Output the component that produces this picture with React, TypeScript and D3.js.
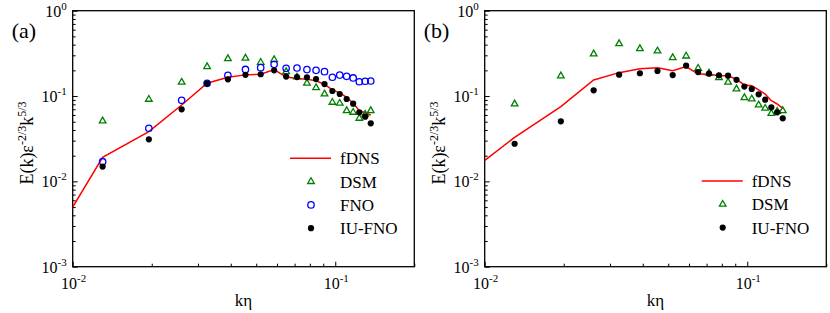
import React, { useRef, useEffect } from 'react';
import * as d3 from 'd3';

// wavenumbers (k eta) of the resolved modes
const kEta = [
  0.013, 0.0195, 0.026, 0.0325, 0.039, 0.0455, 0.052, 0.0585, 0.065, 0.0715,
  0.078, 0.0845, 0.091, 0.0975, 0.104, 0.1105, 0.117, 0.1235, 0.13, 0.1365,
];
// fDNS line also has the first mode (left of the axis, clipped)
const kEtaLine = [
  0.0065, 0.013, 0.0195, 0.026, 0.0325, 0.039, 0.0455, 0.052, 0.0585, 0.065,
  0.0715, 0.078, 0.0845, 0.091, 0.0975, 0.104, 0.1105, 0.117, 0.1235, 0.13,
  0.1365,
];

// panel (a)
const fdnsA = [
  0.00055, 0.0191, 0.0382, 0.0785, 0.141, 0.166, 0.177, 0.18, 0.204, 0.167,
  0.161, 0.157, 0.151, 0.137, 0.118, 0.109, 0.0966, 0.0822, 0.0673, 0.0638,
  0.06,
];
const dsmA = [
  0.051, 0.0915, 0.145, 0.221, 0.274, 0.278, 0.248, 0.267, 0.193, 0.167,
  0.141, 0.125, 0.1056, 0.0844, 0.0822, 0.0673, 0.0644, 0.0548, 0.0611,
  0.0673,
];
const fnoA = [
  0.017, 0.0419, 0.0891, 0.141, 0.175, 0.205, 0.215, 0.235, 0.211, 0.213,
  0.204, 0.2, 0.193, 0.166, 0.176, 0.17, 0.163, 0.147, 0.149, 0.15,
];
const iuA = [
  0.0149, 0.0311, 0.0699, 0.14, 0.157, 0.177, 0.18, 0.2, 0.169, 0.167, 0.166,
  0.158, 0.138, 0.1145, 0.1056, 0.0923, 0.0813, 0.0644, 0.0573, 0.0479,
];

// panel (b)
const fdnsB = [
  0.00633, 0.0328, 0.075, 0.154, 0.188, 0.209, 0.215, 0.198, 0.221, 0.181,
  0.18, 0.173, 0.173, 0.157, 0.135, 0.132, 0.118, 0.1056, 0.0881, 0.0807,
  0.0718,
];
const dsmB = [
  0.0807, 0.172, 0.311, 0.41, 0.359, 0.337, 0.281, 0.294, 0.211, 0.185,
  0.164, 0.145, 0.121, 0.0956, 0.0923, 0.0785, 0.0718, 0.0624, 0.0659,
  0.0673,
];
const iuB = [
  0.0276, 0.0506, 0.1167, 0.178, 0.185, 0.1965, 0.176, 0.227, 0.191, 0.183,
  0.175, 0.173, 0.155, 0.129, 0.121, 0.1047, 0.0906, 0.0738, 0.0645, 0.0548,
];

const xMajor = [0.01, 0.1];
const xMinor = [0.02, 0.03, 0.04, 0.05, 0.06, 0.07, 0.08, 0.09, 0.2];
const yMajor = [1e-3, 1e-2, 1e-1, 1];
const xTickLabels = ['-2', '-1'];
const yTickLabels = ['-3', '-2', '-1', '0'];

const width = 830;
const height = 313;
const top = 10.7;
const bottom = 266.7;
const panelWidth = 341.6;
const font = '"Liberation Serif", "Times New Roman", serif';

type PanelDef = {
  id: string;
  tag: string;
  left: number;
  fdns: number[];
  dsm: number[];
  fno: number[] | null;
  iu: number[];
  legend: { x: number; y: number };
};

const panels: PanelDef[] = [
  { id: 'a', tag: '(a)', left: 72.7, fdns: fdnsA, dsm: dsmA, fno: fnoA, iu: iuA, legend: { x: 290, y: 158.3 } },
  { id: 'b', tag: '(b)', left: 484.7, fdns: fdnsB, dsm: dsmB, fno: null, iu: iuB, legend: { x: 701.7, y: 181 } },
];

const green = '#008000';
const blue = '#0000ff';
const red = '#ff0000';

const tri = d3.symbol(d3.symbolTriangle, 19);

const drawPanel = (svg: any, p: PanelDef) => {
  const right = p.left + panelWidth;
  const x = d3.scaleLog().domain([0.01, 0.2]).range([p.left, right]);
  const y = d3.scaleLog().domain([1e-3, 1]).range([bottom, top]);

  const g = svg.append('g');

  // y minor ticks (2..9 in each decade)
  const yMinor: number[] = [];
  for (let d = -3; d < 0; d++) for (let m = 2; m <= 9; m++) yMinor.push(m * Math.pow(10, d));

  const axisStyle = (sel: any) => {
    sel.select('.domain').remove();
    sel.selectAll('.tick line').attr('stroke', '#000').attr('stroke-width', 1);
  };

  g.append('g')
    .attr('transform', `translate(${p.left},0)`)
    .call(d3.axisLeft(y).tickValues(yMajor).tickSize(-5).tickFormat(() => ''))
    .call(axisStyle);
  g.append('g')
    .attr('transform', `translate(${p.left},0)`)
    .call(d3.axisLeft(y).tickValues(yMinor).tickSize(-3).tickFormat(() => ''))
    .call(axisStyle);
  g.append('g')
    .attr('transform', `translate(0,${bottom})`)
    .call(d3.axisBottom(x).tickValues(xMajor).tickSize(-5).tickFormat(() => ''))
    .call(axisStyle);
  g.append('g')
    .attr('transform', `translate(0,${bottom})`)
    .call(d3.axisBottom(x).tickValues(xMinor).tickSize(-3).tickFormat(() => ''))
    .call(axisStyle);

  // frame
  g.append('rect')
    .attr('x', p.left)
    .attr('y', top)
    .attr('width', panelWidth)
    .attr('height', bottom - top)
    .attr('fill', 'none')
    .attr('stroke', '#000')
    .attr('stroke-width', 1.3);

  // tick labels
  yMajor.forEach((v, i) => {
    const t = g.append('text')
      .attr('x', p.left - 6)
      .attr('y', y(v) + 6)
      .attr('text-anchor', 'end')
      .attr('font-family', font)
      .attr('font-size', 16);
    t.append('tspan').text('10');
    t.append('tspan').attr('dy', -7).attr('font-size', 11).text(yTickLabels[i]);
  });
  xMajor.forEach((v, i) => {
    const t = g.append('text')
      .attr('x', x(v) + 1)
      .attr('y', bottom + 22)
      .attr('text-anchor', 'middle')
      .attr('font-family', font)
      .attr('font-size', 16);
    t.append('tspan').text('10');
    t.append('tspan').attr('dy', -7).attr('font-size', 11).text(xTickLabels[i]);
  });

  // axis titles
  g.append('text')
    .attr('x', p.left + panelWidth / 2)
    .attr('y', 306)
    .attr('text-anchor', 'middle')
    .attr('font-family', font)
    .attr('font-size', 17)
    .text('kη');

  const ly = 143;
  const lx = p.left - 40;
  const yl = g.append('text')
    .attr('transform', `translate(${lx},${ly}) rotate(-90)`)
    .attr('text-anchor', 'middle')
    .attr('font-family', font)
    .attr('font-size', 18);
  yl.append('tspan').text('E(k)ε');
  yl.append('tspan').attr('dy', -7).attr('font-size', 12).text('-2/3');
  yl.append('tspan').attr('dy', 7).text('k');
  yl.append('tspan').attr('dy', -7).attr('font-size', 12).text('5/3');

  g.append('text')
    .attr('x', p.left - 61)
    .attr('y', 38)
    .attr('font-family', font)
    .attr('font-size', 22)
    .text(p.tag);

  // data
  const clipId = `clip-${p.id}`;
  svg.append('clipPath')
    .attr('id', clipId)
    .append('rect')
    .attr('x', p.left)
    .attr('y', top)
    .attr('width', panelWidth)
    .attr('height', bottom - top);

  const line = d3.line<number>()
    .x((d, i) => x(kEtaLine[i]))
    .y((d) => y(d));

  g.append('path')
    .attr('d', line(p.fdns))
    .attr('clip-path', `url(#${clipId})`)
    .attr('fill', 'none')
    .attr('stroke', red)
    .attr('stroke-width', 1.5);

  g.append('g')
    .selectAll('path')
    .data(p.dsm)
    .join('path')
    .attr('d', tri())
    .attr('transform', (d: number, i: number) => `translate(${x(kEta[i])},${y(d)})`)
    .attr('fill', 'none')
    .attr('stroke', green)
    .attr('stroke-width', 1.3);

  if (p.fno) {
    g.append('g')
      .selectAll('circle')
      .data(p.fno)
      .join('circle')
      .attr('cx', (d: number, i: number) => x(kEta[i]))
      .attr('cy', (d: number) => y(d))
      .attr('r', 3.2)
      .attr('fill', 'none')
      .attr('stroke', blue)
      .attr('stroke-width', 1.3);
  }

  g.append('g')
    .selectAll('circle')
    .data(p.iu)
    .join('circle')
    .attr('cx', (d: number, i: number) => x(kEta[i]))
    .attr('cy', (d: number) => y(d))
    .attr('r', 3.1)
    .attr('fill', '#000');

  // legend
  const L = p.legend;
  const step = 23.3;
  let row = 0;
  const label = (yy: number, s: string) =>
    g.append('text')
      .attr('x', L.x + 50)
      .attr('y', yy + 6)
      .attr('font-family', font)
      .attr('font-size', 17)
      .text(s);

  let yy = L.y + step * row++;
  g.append('line')
    .attr('x1', L.x).attr('x2', L.x + 41)
    .attr('y1', yy).attr('y2', yy)
    .attr('stroke', red).attr('stroke-width', 1.5);
  label(yy, 'fDNS');

  yy = L.y + step * row++;
  g.append('path')
    .attr('d', tri())
    .attr('transform', `translate(${L.x + 21},${yy})`)
    .attr('fill', 'none').attr('stroke', green).attr('stroke-width', 1.3);
  label(yy, 'DSM');

  if (p.fno) {
    yy = L.y + step * row++;
    g.append('circle')
      .attr('cx', L.x + 21).attr('cy', yy).attr('r', 3.2)
      .attr('fill', 'none').attr('stroke', blue).attr('stroke-width', 1.3);
    label(yy, 'FNO');
  }

  yy = L.y + step * row++;
  g.append('circle')
    .attr('cx', L.x + 21).attr('cy', yy).attr('r', 3.1)
    .attr('fill', '#000');
  label(yy, 'IU-FNO');
};

const App: React.FC = () => {
  const ref = useRef<SVGSVGElement>(null);

  useEffect(() => {
    const svg = d3.select(ref.current);
    svg.selectAll('*').remove();
    panels.forEach((p) => drawPanel(svg, p));
  }, []);

  return (
    <svg
      ref={ref}
      width={width}
      height={height}
      viewBox={`0 0 ${width} ${height}`}
      style={{ position: 'absolute', left: 0, top: 0, background: '#fff' }}
    />
  );
};

export default App;
